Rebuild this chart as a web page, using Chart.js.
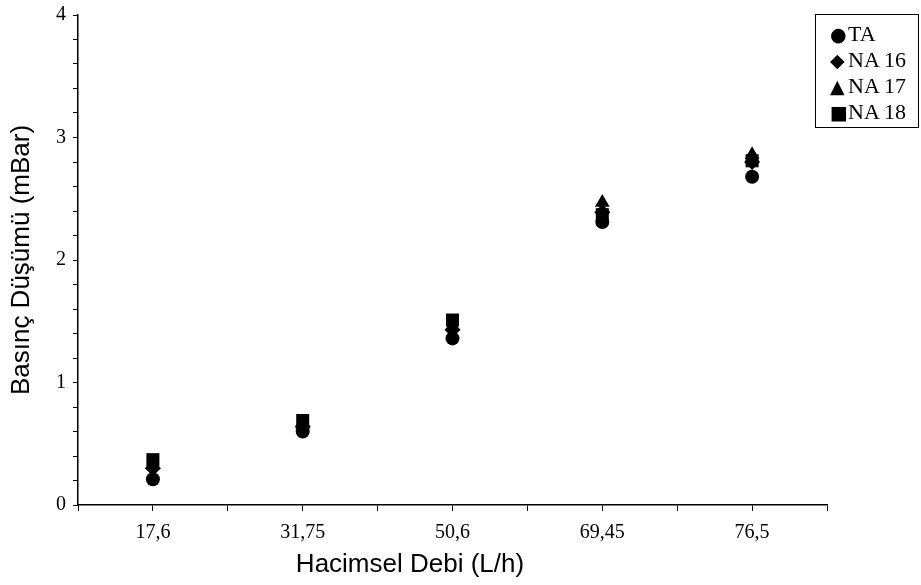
<!DOCTYPE html>
<html lang="tr">
<head>
<meta charset="utf-8">
<title>Basınç Düşümü</title>
<script src="https://cdn.jsdelivr.net/npm/chart.js@4.4.1/dist/chart.umd.min.js"></script>
<style>
    body { margin: 0; background: #fff; }
    #wrap { position: relative; width: 921px; height: 585px; }
    #legendBox {
        position: absolute;
        left: 815px;
        top: 14px;
        width: 104px;
        height: 114px;
        border: 1px solid #000;
        box-sizing: border-box;
        padding: 6px 0 0 14px;
        font-family: 'Liberation Serif', 'Times New Roman', serif;
        font-size: 22px;
        color: #000;
    }
    #legendBox .item { height: 26px; line-height: 26px; white-space: nowrap; }
    #legendBox .mark { font-family: 'DejaVu Sans', sans-serif; font-size: 19px; display: inline-block; width: 18px; }
    #xTitle {
        position: absolute;
        left: 410px;
        top: 548px;
        transform: translateX(-50%);
        font-family: 'Liberation Sans', Arial, sans-serif;
        font-size: 26px;
        color: #000;
        white-space: nowrap;
    }
</style>
</head>
<body>
<div id="wrap">
    <canvas id="pressureChart" width="921" height="585"></canvas>
    <div id="legendBox"></div>
    <div id="xTitle">Hacimsel Debi (L/h)</div>
</div>
<script>
// Chart data
const flowLabels = ['17,6', '31,75', '50,6', '69,45', '76,5'];
const seriesNames = ['TA', 'NA 16', 'NA 17', 'NA 18'];

const taValues = [0.21, 0.60, 1.36, 2.31, 2.68];
const na16Values = [0.30, 0.64, 1.43, 2.39, 2.80];
const na17Values = [0.33, 0.66, 1.46, 2.47, 2.86];
const na18Values = [0.37, 0.69, 1.51, 2.37, 2.81];

const yTickLabels = ['0', '1', '2', '3', '4'];

// Marker styles per series
const markerStyles = ['circle', 'rectRot', 'triangle', 'rect'];
const markerRadius = [7, 8, 8.5, 9.2];
const markerGlyphs = { circle: '●', rectRot: '◆', triangle: '▲', rect: '■' };

let pressureChart = null;

// Map category index to a point on the x scale (centre of the category)
function toPoints(values) {
    return values.map((v, i) => ({ x: i + 0.5, y: v }));
}

function buildDatasets() {
    const allValues = [taValues, na16Values, na17Values, na18Values];
    return allValues.map((values, i) => ({
        label: seriesNames[i],
        data: toPoints(values),
        pointStyle: markerStyles[i],
        pointRadius: markerRadius[i],
        pointHoverRadius: markerRadius[i],
        backgroundColor: '#000',
        borderColor: '#000',
        borderWidth: 0,
        showLine: false
    }));
}

// HTML legend with a box around it
function renderLegend() {
    const box = document.getElementById('legendBox');
    box.innerHTML = seriesNames.map((name, i) => `
        <div class="item"><span class="mark">${markerGlyphs[markerStyles[i]]}</span>${name}</div>
    `).join('');
}

function initializeChart() {
    const canvas = document.getElementById('pressureChart');
    const ctx = canvas.getContext('2d');

    pressureChart = new Chart(ctx, {
        type: 'scatter',
        data: { datasets: buildDatasets() },
        options: {
            responsive: false,
            animation: false,
            layout: {
                autoPadding: false,
                padding: { top: 15, right: 94, left: 0, bottom: 0 }
            },
            plugins: {
                legend: { display: false },
                tooltip: { enabled: false }
            },
            scales: {
                x: {
                    type: 'linear',
                    min: 0,
                    max: flowLabels.length,
                    afterFit: scale => { scale.height = 80; },
                    afterBuildTicks: scale => {
                        const ticks = [];
                        for (let i = 0; i <= flowLabels.length * 2; i++) ticks.push({ value: i / 2 });
                        scale.ticks = ticks;
                    },
                    ticks: {
                        autoSkip: false,
                        maxRotation: 0,
                        padding: 10,
                        color: '#000',
                        font: { family: 'Liberation Serif', size: 20 },
                        callback: function (value) {
                            const idx = value - 0.5;
                            return Number.isInteger(idx) ? flowLabels[idx] : '';
                        }
                    },
                    grid: { drawOnChartArea: false, drawTicks: true, tickLength: 6, color: '#000', lineWidth: 1 },
                    border: { color: '#000', width: 1.5 }
                },
                y: {
                    min: 0,
                    max: 4,
                    afterFit: scale => {
                        scale.width = 78;
                        scale.paddingTop = 0;
                        scale.paddingBottom = 0;
                    },
                    afterBuildTicks: scale => {
                        const ticks = [];
                        for (let i = 0; i <= 20; i++) ticks.push({ value: i / 5 });
                        scale.ticks = ticks;
                    },
                    ticks: {
                        autoSkip: false,
                        padding: 7,
                        color: '#000',
                        font: { family: 'Liberation Serif', size: 20 },
                        callback: function (value) {
                            const r = Math.round(value * 10) / 10;
                            return Number.isInteger(r) ? yTickLabels[r] : '';
                        }
                    },
                    grid: { drawOnChartArea: false, drawTicks: true, tickLength: 5, color: '#000', lineWidth: 1 },
                    border: { color: '#000', width: 1.5 },
                    title: {
                        display: true,
                        text: 'Basınç Düşümü (mBar)',
                        color: '#000',
                        font: { family: 'Liberation Sans', size: 26, weight: 'normal' },
                        padding: { top: 6, bottom: 0 }
                    }
                }
            }
        }
    });
}

document.addEventListener('DOMContentLoaded', function () {
    initializeChart();
    renderLegend();
});
</script>
</body>
</html>
